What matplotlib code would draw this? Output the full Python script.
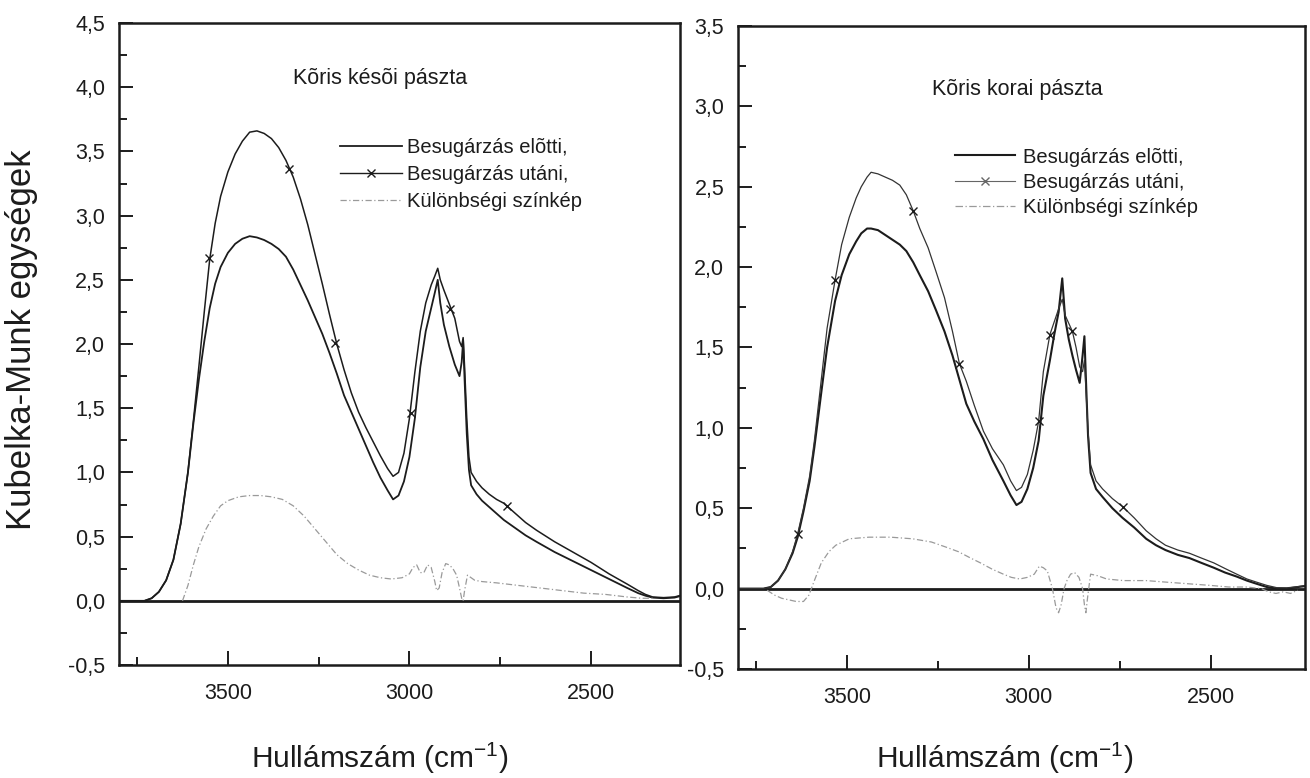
import matplotlib
matplotlib.use("Agg")
import matplotlib.pyplot as plt
from matplotlib.lines import Line2D
from matplotlib.ticker import MultipleLocator, FixedLocator, FuncFormatter

plt.rcParams['font.family'] = ['Liberation Sans', 'DejaVu Sans']
plt.rcParams['mathtext.fontset'] = 'custom'
plt.rcParams['mathtext.rm'] = 'Liberation Sans'
plt.rcParams['mathtext.default'] = 'regular'

# ---- data: left panel (Kõris késõi pászta) ----
left_wn = [3800, 3760, 3730, 3710, 3690, 3670, 3650, 3630, 3610, 3595, 3580, 3565, 3550, 3535,
           3520, 3500, 3480, 3460, 3440, 3420, 3400, 3380, 3360, 3340, 3320, 3300, 3280, 3260,
           3240, 3220, 3200, 3180, 3160, 3140, 3120, 3100, 3080, 3060, 3045, 3030, 3015, 3000,
           2985, 2970, 2955, 2940, 2930, 2922, 2915, 2905, 2890, 2875, 2862, 2856, 2852, 2848,
           2842, 2836, 2830, 2815, 2800, 2780, 2760, 2740, 2720, 2700, 2680, 2650, 2600, 2550,
           2500, 2450, 2400, 2370, 2350, 2330, 2300, 2270, 2250]
left_before = [0.0, 0.0, 0.0, 0.02, 0.07, 0.16, 0.32, 0.6, 1.0, 1.38, 1.72, 2.02, 2.28, 2.47,
               2.6, 2.71, 2.78, 2.82, 2.84, 2.83, 2.81, 2.78, 2.74, 2.68, 2.58, 2.46, 2.34, 2.21,
               2.08, 1.93, 1.77, 1.6, 1.47, 1.34, 1.21, 1.08, 0.96, 0.86, 0.79, 0.82, 0.93, 1.12,
               1.42, 1.82, 2.1, 2.28, 2.4, 2.5, 2.32, 2.15, 1.98, 1.84, 1.75, 1.86, 2.03, 1.72,
               1.3, 1.02, 0.9, 0.83, 0.78, 0.73, 0.68, 0.63, 0.59, 0.55, 0.51, 0.46, 0.38, 0.31,
               0.24, 0.17, 0.1, 0.06, 0.04, 0.025, 0.02, 0.025, 0.04]
left_after = [0.0, 0.0, 0.0, 0.02, 0.07, 0.16, 0.32, 0.6, 1.0, 1.4, 1.82, 2.25, 2.66, 2.94,
              3.15, 3.34, 3.48, 3.58, 3.65, 3.66, 3.64, 3.6, 3.53, 3.43, 3.3, 3.13, 2.93, 2.7,
              2.47, 2.23, 2.0, 1.8, 1.62, 1.47, 1.35, 1.24, 1.13, 1.03, 0.97, 1.0, 1.15, 1.42,
              1.78, 2.1, 2.32, 2.46, 2.53, 2.59, 2.5, 2.42, 2.31, 2.2, 2.02, 1.98, 2.05, 1.82,
              1.42, 1.12, 1.0, 0.93, 0.88, 0.83, 0.79, 0.76, 0.71, 0.66, 0.61, 0.55, 0.46, 0.38,
              0.3, 0.21, 0.13, 0.08, 0.05, 0.03, 0.025, 0.03, 0.045]
left_mark_wn = [3552, 3332, 3204, 2996, 2887, 2730]
left_mark_val = [2.67, 3.36, 2.01, 1.46, 2.27, 0.74]
left_diff_wn = [3625, 3610, 3595, 3580, 3560, 3540, 3520, 3500, 3470, 3440, 3410, 3380, 3350,
                3320, 3290, 3260, 3230, 3200, 3170, 3140, 3110, 3080, 3050, 3020, 3000, 2990,
                2980, 2970, 2960, 2950, 2940, 2930, 2925, 2918, 2910, 2900, 2890, 2880, 2870,
                2862, 2856, 2852, 2848, 2840, 2830, 2820, 2800, 2760, 2700, 2640, 2580, 2520,
                2460, 2400, 2360, 2330]
left_diff = [0.0, 0.12, 0.28, 0.42, 0.56, 0.66, 0.74, 0.78, 0.81, 0.82, 0.82, 0.81, 0.79,
             0.74, 0.66, 0.56, 0.46, 0.36, 0.29, 0.24, 0.2, 0.18, 0.17, 0.18, 0.21, 0.26,
             0.28, 0.22, 0.22, 0.28, 0.26, 0.15, 0.08, 0.1, 0.22, 0.29, 0.28, 0.25, 0.2,
             0.1, 0.02, 0.0, 0.08, 0.2, 0.18, 0.16, 0.15, 0.14, 0.12, 0.1, 0.08, 0.06,
             0.05, 0.03, 0.02, 0.02]

# ---- data: right panel (Kõris korai pászta) ----
right_wn = [3800, 3760, 3730, 3710, 3690, 3670, 3650, 3636, 3620, 3603, 3590, 3571, 3555, 3533,
            3515, 3494, 3475, 3461, 3445, 3434, 3415, 3395, 3375, 3355, 3337, 3318, 3300, 3277,
            3255, 3232, 3210, 3191, 3172, 3150, 3125, 3100, 3070, 3050, 3034, 3020, 3004, 2988,
            2973, 2960, 2942, 2930, 2918, 2908, 2900, 2890, 2880, 2870, 2860, 2852, 2847, 2842,
            2837, 2830, 2815, 2797, 2770, 2742, 2710, 2677, 2650, 2624, 2590, 2558, 2525, 2491,
            2460, 2428, 2400, 2373, 2345, 2318, 2290, 2260, 2240]
right_before = [0.0, 0.0, 0.0, 0.01, 0.05, 0.12, 0.22, 0.32, 0.48, 0.67, 0.88, 1.22, 1.5, 1.79,
                1.95, 2.08, 2.16, 2.21, 2.24, 2.24, 2.23, 2.2, 2.17, 2.14, 2.1, 2.03, 1.95, 1.85,
                1.73, 1.6, 1.45, 1.3, 1.15, 1.04, 0.93, 0.8, 0.67, 0.58, 0.52, 0.54, 0.62, 0.75,
                0.92, 1.2, 1.42, 1.58, 1.72, 1.93, 1.68, 1.55, 1.45, 1.36, 1.28, 1.45, 1.57, 1.25,
                0.95, 0.72, 0.62, 0.57, 0.5, 0.44, 0.38, 0.31, 0.27, 0.24, 0.21, 0.19, 0.16, 0.13,
                0.1, 0.075, 0.05, 0.03, 0.01, 0.0, 0.0, 0.01, 0.015]
right_after = [0.0, 0.0, 0.0, 0.01, 0.05, 0.12, 0.23, 0.34, 0.5, 0.7, 0.92, 1.3, 1.62, 1.92,
               2.14, 2.31, 2.43, 2.5, 2.56, 2.59, 2.58, 2.56, 2.54, 2.51, 2.45, 2.35, 2.24, 2.12,
               1.97, 1.81, 1.6, 1.4, 1.29, 1.14, 0.98, 0.87, 0.77, 0.67, 0.61, 0.63, 0.71, 0.86,
               1.04, 1.35, 1.58, 1.66, 1.74, 1.8, 1.7, 1.65, 1.6, 1.5, 1.38, 1.35, 1.42, 1.2,
               0.98, 0.77, 0.67, 0.62, 0.56, 0.51, 0.44, 0.36, 0.31, 0.27, 0.24, 0.22, 0.19, 0.16,
               0.125, 0.09, 0.06, 0.04, 0.02, 0.006, 0.005, 0.012, 0.02]
right_mark_wn = [3636, 3533, 3318, 3191, 2973, 2942, 2880, 2742]
right_mark_val = [0.34, 1.92, 2.35, 1.40, 1.04, 1.58, 1.60, 0.51]
right_diff_wn = [3720, 3700, 3680, 3660, 3640, 3620, 3605, 3590, 3571, 3550, 3531, 3494, 3440,
                 3380, 3320, 3268, 3230, 3194, 3160, 3133, 3100, 3070, 3048, 3025, 3004, 2985,
                 2971, 2960, 2949, 2935, 2925, 2918, 2911, 2903, 2895, 2885, 2874, 2862, 2852,
                 2847, 2843, 2838, 2830, 2810, 2786, 2740, 2677, 2620, 2560, 2500, 2450, 2400,
                 2360, 2340, 2320, 2300, 2280, 2260]
right_diff = [-0.01, -0.04, -0.06, -0.07, -0.08, -0.08, -0.04, 0.05, 0.16, 0.23, 0.27, 0.31, 0.32,
              0.32, 0.31, 0.29, 0.26, 0.23, 0.19, 0.16, 0.12, 0.09, 0.07, 0.06, 0.07, 0.09,
              0.14, 0.13, 0.11, 0.0, -0.12, -0.15, -0.1, 0.0, 0.05, 0.09, 0.1, 0.07, 0.0,
              -0.1, -0.15, -0.05, 0.09, 0.08, 0.06, 0.05, 0.05, 0.04, 0.03, 0.02, 0.01, 0.01,
              0.0, -0.02, -0.03, -0.02, -0.03, -0.01]

legend_labels = ["Besugárzás elõtti,", "Besugárzás utáni,", "Különbségi színkép"]
ink = "#1c1c1c"
grey = "#9a9a9a"
diff_style = (0, (5, 2, 1, 2))


def comma(v, pos):
    return ("%.1f" % v).replace(".", ",")


def style_axes(ax, ylim, xlim):
    ax.set_xlim(xlim)
    ax.set_ylim(ylim)
    ax.xaxis.set_major_locator(FixedLocator([3500, 3000, 2500]))
    ax.xaxis.set_minor_locator(FixedLocator([3750, 3250, 2750]))
    ax.yaxis.set_major_locator(MultipleLocator(0.5))
    ax.yaxis.set_minor_locator(MultipleLocator(0.25))
    ax.yaxis.set_major_formatter(FuncFormatter(comma))
    ax.tick_params(which="both", direction="in", top=False, right=False, color=ink, width=1.4)
    ax.tick_params(which="major", length=10, labelsize=15.5, labelcolor=ink)
    ax.tick_params(which="minor", length=5.5)
    ax.tick_params(axis="y", which="major", pad=10)
    ax.tick_params(axis="x", which="major", pad=13)
    for s in ax.spines.values():
        s.set_linewidth(1.8)
        s.set_color(ink)
    ax.axhline(0, color=ink, lw=2.0, zorder=1)


fig = plt.figure(figsize=(13.1, 7.78), dpi=100)
axL = fig.add_axes([0.0908, 0.1452, 0.4282, 0.8252])
axR = fig.add_axes([0.5634, 0.1401, 0.4328, 0.8265])

# left panel
style_axes(axL, (-0.5, 4.5), (3800, 2255))
axL.plot(left_wn, left_before, color=ink, lw=1.3)
axL.plot(left_wn, left_after, color=ink, lw=1.1)
axL.plot(left_mark_wn, left_mark_val, "x", color=ink, ms=6, mew=1.0)
axL.plot(left_diff_wn, left_diff, color=grey, lw=0.9, linestyle=diff_style)
axL.text(0.31, 0.913, "Kõris késõi pászta", transform=axL.transAxes, fontsize=15.5,
         ha="left", va="center", color=ink)
hL = [Line2D([], [], color=ink, lw=1.3),
      Line2D([], [], color=ink, lw=1.0, marker="x", ms=6, mew=1.0),
      Line2D([], [], color=grey, lw=0.9, linestyle=diff_style)]
axL.legend(hL, legend_labels, loc="upper left", bbox_to_anchor=(0.394, 0.821), frameon=False,
           fontsize=14.5, handlelength=3.1, handletextpad=0.25, labelspacing=0.4,
           borderpad=0, borderaxespad=0, labelcolor=ink)

# right panel
style_axes(axR, (-0.5, 3.5), (3800, 2240))
axR.plot(right_wn, right_before, color=ink, lw=1.5)
axR.plot(right_wn, right_after, color="#333333", lw=0.9)
axR.plot(right_mark_wn, right_mark_val, "x", color=ink, ms=6, mew=1.0)
axR.plot(right_diff_wn, right_diff, color=grey, lw=0.9, linestyle=diff_style)
axR.text(0.342, 0.902, "Kõris korai pászta", transform=axR.transAxes, fontsize=15.5,
         ha="left", va="center", color=ink)
hR = [Line2D([], [], color=ink, lw=1.5),
      Line2D([], [], color="#666666", lw=0.8, marker="x", ms=6, mew=1.0),
      Line2D([], [], color=grey, lw=0.9, linestyle=(0, (6, 2, 1, 2)))]
axR.legend(hR, legend_labels, loc="upper left", bbox_to_anchor=(0.383, 0.811), frameon=False,
           fontsize=14.5, handlelength=2.95, handletextpad=0.4, labelspacing=0.3,
           borderpad=0, borderaxespad=0, labelcolor=ink)

# axis titles
fig.text(22 / 1310, 1 - 340 / 778, "Kubelka-Munk egységek", rotation=90, fontsize=25,
         ha="center", va="center", color=ink)
fig.text(380 / 1310, 1 - 768 / 778, "Hullámszám (cm$^{-1}$)", fontsize=21.5,
         ha="center", va="baseline", color=ink)
fig.text(1005 / 1310, 1 - 768 / 778, "Hullámszám (cm$^{-1}$)", fontsize=21.5,
         ha="center", va="baseline", color=ink)

fig.savefig("out.png", dpi=100)
